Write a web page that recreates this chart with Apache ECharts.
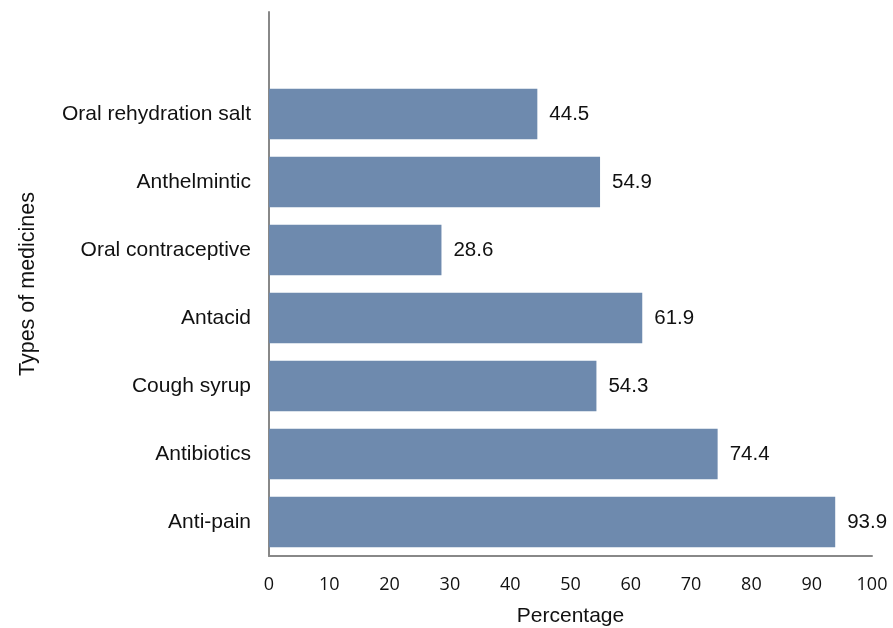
<!DOCTYPE html>
<html><head><meta charset="utf-8">
<script src="https://cdn.jsdelivr.net/npm/echarts@6/dist/echarts.min.js"></script>
<style>html,body{margin:0;padding:0;background:#fff}#c{width:893px;height:628px}</style>
</head><body><div id="c"></div>
<script>
const categories = ['Anti-pain','Antibiotics','Cough syrup','Antacid','Oral contraceptive','Anthelmintic','Oral rehydration salt',''];
const values = [93.9, 74.4, 54.3, 61.9, 28.6, 54.9, 44.5, null];
const xTicks = [0,10,20,30,40,50,60,70,80,90,100];

const chart = echarts.init(document.getElementById('c'));
chart.setOption({
  animation: false,
  grid: {left: 269, right: 21, top: 12, bottom: 72, outerBoundsMode: 'none', containLabel: false},
  xAxis: {
    type: 'value', min: 0, max: 100, interval: 10,
    name: 'Percentage', nameLocation: 'middle', nameGap: 50,
    nameTextStyle: {fontFamily: 'Liberation Sans', fontSize: 21, color: '#111'},
    axisLine: {show: true, lineStyle: {color: '#888', width: 2}},
    axisTick: {show: false},
    splitLine: {show: false},
    axisLabel: {fontFamily: 'Open Sans', fontSize: 18, color: '#111', margin: 20,
      formatter: v => xTicks.includes(v) ? String(v) : ''}
  },
  yAxis: {
    type: 'category', data: categories,
    name: 'Types of medicines', nameLocation: 'middle', nameGap: 230,
    nameTextStyle: {fontFamily: 'Liberation Sans', fontSize: 21.5, color: '#111'},
    axisLine: {show: true, lineStyle: {color: '#888', width: 2}},
    axisTick: {show: false},
    axisLabel: {fontFamily: 'Liberation Sans', fontSize: 21, color: '#111', margin: 18}
  },
  series: [{
    type: 'bar', data: values, barCategoryGap: '26%',
    itemStyle: {color: '#6E8AAE'},
    label: {show: true, position: 'right', distance: 12, fontFamily: 'Liberation Sans', fontSize: 20.5, color: '#111',
      formatter: p => p.value.toFixed(1)}
  }]
});
</script></body></html>
